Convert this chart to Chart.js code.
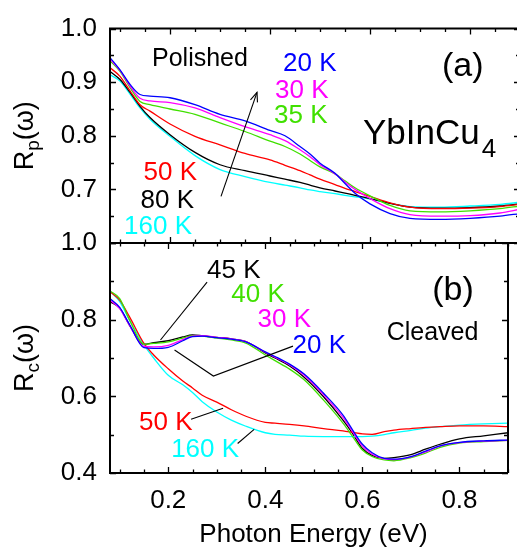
<!DOCTYPE html>
<html><head><meta charset="utf-8">
<script src="https://cdn.jsdelivr.net/npm/chart.js@4.4.0/dist/chart.umd.min.js"></script>
<style>
html,body{margin:0;padding:0;background:#fff;overflow:hidden;width:517px;height:551px;}
#wrap{position:relative;width:520px;height:551px;}
canvas{position:absolute;left:0;top:0;}
</style></head><body>
<div id="wrap"><canvas id="cb" width="520" height="551"></canvas><canvas id="ct" width="520" height="551"></canvas></div>
<script>
// ---------- data: panel (a) polished ----------
const energyA = [0.08, 0.10, 0.12, 0.14, 0.16, 0.20, 0.25, 0.30, 0.35, 0.40, 0.43, 0.46, 0.48, 0.50, 0.53, 0.55, 0.57, 0.60, 0.64, 0.68, 0.74, 0.80, 0.86, 0.90];
const rpA20K  = [0.946, 0.923, 0.896, 0.877, 0.874, 0.871, 0.858, 0.840, 0.828, 0.810, 0.800, 0.780, 0.766, 0.749, 0.730, 0.711, 0.693, 0.673, 0.655, 0.646, 0.644, 0.646, 0.650, 0.655];
const rpA30K  = [0.943, 0.922, 0.893, 0.870, 0.865, 0.862, 0.852, 0.834, 0.817, 0.802, 0.791, 0.774, 0.761, 0.746, 0.729, 0.714, 0.700, 0.683, 0.664, 0.653, 0.650, 0.651, 0.656, 0.663];
const rpA35K  = [0.940, 0.920, 0.890, 0.864, 0.858, 0.850, 0.840, 0.824, 0.808, 0.790, 0.780, 0.766, 0.754, 0.742, 0.729, 0.716, 0.703, 0.688, 0.670, 0.660, 0.658, 0.660, 0.664, 0.669];
const rpA50K  = [0.927, 0.911, 0.884, 0.858, 0.846, 0.822, 0.799, 0.783, 0.767, 0.755, 0.745, 0.735, 0.727, 0.719, 0.709, 0.702, 0.696, 0.687, 0.675, 0.667, 0.664, 0.665, 0.668, 0.672];
const rpA80K  = [0.920, 0.905, 0.881, 0.855, 0.834, 0.802, 0.769, 0.746, 0.735, 0.725, 0.719, 0.713, 0.708, 0.703, 0.697, 0.693, 0.689, 0.683, 0.674, 0.667, 0.665, 0.666, 0.669, 0.673];
const rpA160K = [0.914, 0.902, 0.878, 0.852, 0.831, 0.799, 0.763, 0.737, 0.724, 0.713, 0.708, 0.703, 0.699, 0.696, 0.692, 0.689, 0.686, 0.682, 0.674, 0.668, 0.667, 0.669, 0.672, 0.676];

// ---------- data: panel (b) cleaved ----------
const energyB = [0.08, 0.10, 0.12, 0.15, 0.17, 0.20, 0.23, 0.25, 0.27, 0.30, 0.33, 0.36, 0.40, 0.42, 0.45, 0.48, 0.52, 0.56, 0.58, 0.60, 0.62, 0.645, 0.665, 0.70, 0.73, 0.76, 0.80, 0.85, 0.90];
const rcB20K  = [0.855, 0.832, 0.788, 0.727, 0.725, 0.728, 0.745, 0.756, 0.757, 0.753, 0.749, 0.742, 0.716, 0.704, 0.684, 0.658, 0.608, 0.551, 0.512, 0.475, 0.453, 0.438, 0.436, 0.443, 0.457, 0.471, 0.480, 0.484, 0.486];
const rcB30K  = [0.851, 0.829, 0.786, 0.730, 0.729, 0.733, 0.748, 0.757, 0.758, 0.754, 0.750, 0.743, 0.715, 0.702, 0.682, 0.655, 0.604, 0.545, 0.507, 0.470, 0.449, 0.437, 0.435, 0.442, 0.455, 0.470, 0.479, 0.483, 0.485];
const rcB40K  = [0.875, 0.855, 0.800, 0.736, 0.738, 0.742, 0.752, 0.758, 0.757, 0.752, 0.747, 0.739, 0.708, 0.693, 0.671, 0.643, 0.590, 0.530, 0.495, 0.460, 0.443, 0.434, 0.432, 0.440, 0.452, 0.467, 0.478, 0.482, 0.485];
const rcB45K  = [0.847, 0.830, 0.786, 0.736, 0.740, 0.745, 0.755, 0.760, 0.758, 0.754, 0.750, 0.743, 0.713, 0.700, 0.679, 0.650, 0.599, 0.538, 0.503, 0.464, 0.446, 0.438, 0.440, 0.448, 0.462, 0.475, 0.489, 0.497, 0.505];
const rcB50K  = [0.873, 0.851, 0.808, 0.738, 0.708, 0.672, 0.640, 0.622, 0.603, 0.585, 0.565, 0.548, 0.532, 0.530, 0.527, 0.523, 0.516, 0.510, 0.506, 0.502, 0.501, 0.508, 0.512, 0.516, 0.519, 0.521, 0.523, 0.523, 0.521];
const rcB160K = [0.875, 0.847, 0.799, 0.734, 0.700, 0.655, 0.630, 0.610, 0.586, 0.559, 0.538, 0.522, 0.505, 0.501, 0.499, 0.496, 0.495, 0.495, 0.495, 0.495, 0.496, 0.500, 0.505, 0.511, 0.517, 0.521, 0.525, 0.528, 0.530];

// ---------- tick labels ----------
const xTickLabels  = ['0.2', '0.4', '0.6', '0.8'];
const yTickLabelsA = ['0.7', '0.8', '0.9', '1.0'];
const yTickLabelsB = ['0.4', '0.6', '0.8', '1.0'];

// ---------- styling ----------
const FONT = '"Liberation Sans", Arial, Helvetica, sans-serif';
const C = {blue:'#0000ff', magenta:'#ff00ff', green:'#40e000', red:'#ff0000', black:'#000000', cyan:'#00ffff'};
const X_MIN = 0.08, X_MAX = 0.90;

function series(xs, ys, color) {
  return {data: xs.map((x, i) => ({x: x, y: ys[i]})), borderColor: color, backgroundColor: color,
    borderWidth: 1.3, pointRadius: 0, showLine: true, fill: false, cubicInterpolationMode: 'monotone'};
}

function txt(ctx, s, x, y, color, size, align) {
  ctx.font = size + 'px ' + FONT;
  ctx.fillStyle = color;
  ctx.textAlign = align || 'left';
  ctx.textBaseline = 'alphabetic';
  ctx.fillText(s, x, y);
}

function rotatedTitle(ctx, cx, cy, main, sub, tail) {
  ctx.save();
  ctx.translate(cx, cy);
  ctx.rotate(-Math.PI / 2);
  ctx.fillStyle = '#000';
  ctx.textBaseline = 'alphabetic';
  ctx.textAlign = 'left';
  const fm = '27px ' + FONT, fs = '19px ' + FONT;
  ctx.font = fm; const w1 = ctx.measureText(main).width; const w3 = ctx.measureText(tail).width;
  ctx.font = fs; const w2 = ctx.measureText(sub).width;
  let x = -(w1 + w2 + w3) / 2;
  ctx.font = fm; ctx.fillText(main, x, 0); x += w1;
  ctx.font = fs; ctx.fillText(sub, x, 6); x += w2;
  ctx.font = fm; ctx.fillText(tail, x, 0);
  ctx.restore();
}

function framePlugin(yTicks) {
  return {
    id: 'frameTicks',
    afterDraw(chart) {
      const ctx = chart.ctx, xs = chart.scales.x, ys = chart.scales.y, a = chart.chartArea;
      ctx.save();
      ctx.strokeStyle = '#000';
      ctx.lineWidth = 2;
      ctx.beginPath();
      ctx.moveTo(a.left, a.top); ctx.lineTo(a.right, a.top);
      ctx.moveTo(a.left, a.bottom); ctx.lineTo(a.right, a.bottom);
      ctx.moveTo(a.left, a.top - 1); ctx.lineTo(a.left, a.bottom + 1);
      ctx.moveTo(a.right, a.top); ctx.lineTo(a.right, a.bottom);
      ctx.stroke();
      ctx.lineWidth = 1.3;
      ctx.beginPath();
      for (let i = 2; i <= 18; i++) {
        const v = i * 0.05;
        const px = Math.round(xs.getPixelForValue(v)) + 0.5;
        const L = (i % 4 === 0) ? 6 : 3.5;
        ctx.moveTo(px, a.top); ctx.lineTo(px, a.top + L);
        ctx.moveTo(px, a.bottom); ctx.lineTo(px, a.bottom - L);
      }
      for (const t of yTicks) {
        const py = Math.round(ys.getPixelForValue(t.v)) + 0.5;
        const L = t.major ? 6 : 4;
        ctx.moveTo(a.left, py); ctx.lineTo(a.left + L, py);
        ctx.moveTo(a.right, py); ctx.lineTo(a.right - L, py);
      }
      ctx.stroke();
      ctx.restore();
    }
  };
}

function annotPlugin(labels, lines, arrows, extra) {
  return {
    id: 'annot',
    afterDraw(chart) {
      const ctx = chart.ctx, xs = chart.scales.x, ys = chart.scales.y;
      const P = (p) => [xs.getPixelForValue(p[0]), ys.getPixelForValue(p[1])];
      ctx.save();
      ctx.strokeStyle = '#000';
      ctx.lineWidth = 1.1;
      for (const ln of lines) {
        ctx.beginPath();
        ln.forEach((p, i) => { const q = P(p); if (i === 0) ctx.moveTo(q[0], q[1]); else ctx.lineTo(q[0], q[1]); });
        ctx.stroke();
      }
      for (const ar of arrows) {
        const f = P(ar[0]), t = P(ar[1]);
        ctx.beginPath(); ctx.moveTo(f[0], f[1]); ctx.lineTo(t[0], t[1]); ctx.stroke();
        const ang = Math.atan2(t[1] - f[1], t[0] - f[0]);
        const hl = 10, ha = 0.38;
        ctx.beginPath();
        ctx.moveTo(t[0] - hl * Math.cos(ang - ha), t[1] - hl * Math.sin(ang - ha));
        ctx.lineTo(t[0], t[1]);
        ctx.lineTo(t[0] - hl * Math.cos(ang + ha), t[1] - hl * Math.sin(ang + ha));
        ctx.stroke();
      }
      for (const lb of labels) {
        const q = P([lb.x, lb.y]);
        txt(ctx, lb.text, q[0], q[1], lb.color, lb.size, lb.align);
      }
      if (extra) extra(ctx, chart, P);
      ctx.restore();
    }
  };
}

const labelsA = [
  {text:'Polished', x:0.164, y:0.931, color:C.black, size:25},
  {text:'20 K', x:0.426, y:0.920, color:C.blue, size:26},
  {text:'30 K', x:0.410, y:0.871, color:C.magenta, size:26},
  {text:'35 K', x:0.408, y:0.823, color:C.green, size:26},
  {text:'(a)', x:0.744, y:0.912, color:C.black, size:34},
  {text:'50 K', x:0.254, y:0.717, color:C.red, size:26, align:'right'},
  {text:'80 K', x:0.248, y:0.665, color:C.black, size:26, align:'right'},
  {text:'160 K', x:0.244, y:0.616, color:C.cyan, size:26, align:'right'}
];
const arrowsA = [[[0.302, 0.687], [0.374, 0.881]]];

const labelsB = [
  {text:'45 K', x:0.280, y:0.909, color:C.black, size:26},
  {text:'40 K', x:0.330, y:0.846, color:C.green, size:26},
  {text:'30 K', x:0.384, y:0.781, color:C.magenta, size:26},
  {text:'20 K', x:0.456, y:0.713, color:C.blue, size:26},
  {text:'(b)', x:0.744, y:0.851, color:C.black, size:34},
  {text:'Cleaved', x:0.650, y:0.747, color:C.black, size:25},
  {text:'50 K', x:0.140, y:0.512, color:C.red, size:26},
  {text:'160 K', x:0.206, y:0.442, color:C.cyan, size:26}
];
const linesB = [
  [[0.280, 0.898], [0.184, 0.747]],
  [[0.213, 0.721], [0.293, 0.653], [0.457, 0.731]],
  [[0.247, 0.540], [0.313, 0.569]],
  [[0.343, 0.477], [0.377, 0.514]]
];

const yTicksA = [];
for (let k = 12; k <= 20; k++) yTicksA.push({v: k * 0.05, major: k % 2 === 0});
const yTicksB = [];
for (let k = 4; k <= 10; k++) yTicksB.push({v: k * 0.1, major: k % 2 === 0});

Chart.defaults.font.family = FONT;
Chart.defaults.color = '#000';

function yScale(min, max, step, labels) {
  return {
    type: 'linear', position: 'left', min: min, max: max,
    grid: {display: false, drawTicks: false}, border: {display: false},
    ticks: {stepSize: step, autoSkip: false, padding: 13, font: {size: 26, family: FONT}, color: '#000',
      callback: (v) => { const s = (Math.round(v * 100) / 100).toFixed(1); return (labels.includes(s) && Math.abs(v * 10 - Math.round(v * 10)) < 1e-6) ? s : ''; }},
    afterFit: (s) => { s.width = 110; }
  };
}

// top panel
new Chart(document.getElementById('ct'), {
  type: 'scatter',
  data: {datasets: [
    series(energyA, rpA20K, C.blue), series(energyA, rpA30K, C.magenta), series(energyA, rpA35K, C.green),
    series(energyA, rpA50K, C.red), series(energyA, rpA80K, C.black), series(energyA, rpA160K, C.cyan)
  ]},
  options: {
    responsive: false, animation: false, events: [],
    layout: {padding: {top: 18, bottom: 308, left: 0, right: 0}},
    plugins: {legend: {display: false}, tooltip: {enabled: false}},
    scales: {
      x: {type: 'linear', min: X_MIN, max: X_MAX, display: false},
      y: yScale(0.6, 1.0, 0.05, yTickLabelsA)
    }
  },
  plugins: [framePlugin(yTicksA), annotPlugin(labelsA, [], arrowsA, (ctx, chart, P) => {
    const q = P([0.586, 0.784]);
    txt(ctx, 'YbInCu', q[0], q[1], '#000', 35);
    ctx.font = '35px ' + FONT;
    const w = ctx.measureText('YbInCu').width;
    txt(ctx, '4', q[0] + w + 2, q[1] + 13, '#000', 26);
    rotatedTitle(ctx, 33, (chart.chartArea.top + chart.chartArea.bottom) / 2, 'R', 'p', '(\u03c9)');
  })]
});

// bottom panel
new Chart(document.getElementById('cb'), {
  type: 'scatter',
  data: {datasets: [
    series(energyB, rcB20K, C.blue), series(energyB, rcB30K, C.magenta), series(energyB, rcB40K, C.green),
    series(energyB, rcB50K, C.red), series(energyB, rcB160K, C.cyan), series(energyB, rcB45K, C.black)
  ]},
  options: {
    responsive: false, animation: false, events: [],
    layout: {padding: {top: 243, bottom: 0, left: 0, right: 0}},
    plugins: {legend: {display: false}, tooltip: {enabled: false}},
    scales: {
      x: {type: 'linear', position: 'bottom', min: X_MIN, max: X_MAX,
        grid: {display: false, drawTicks: false}, border: {display: false},
        ticks: {stepSize: 0.05, autoSkip: false, maxRotation: 0, padding: 12, font: {size: 26, family: FONT}, color: '#000',
          callback: (v) => { const s = (Math.round(v * 100) / 100).toFixed(1); return (xTickLabels.includes(s) && Math.abs(v * 10 - Math.round(v * 10)) < 1e-6) ? s : ''; }},
        afterFit: (s) => { s.height = 78; }
      },
      y: yScale(0.4, 1.0, 0.1, yTickLabelsB)
    }
  },
  plugins: [framePlugin(yTicksB), annotPlugin(labelsB, linesB, [], (ctx, chart) => {
    const a = chart.chartArea;
    rotatedTitle(ctx, 33, (a.top + a.bottom) / 2, 'R', 'c', '(\u03c9)');
    txt(ctx, 'Photon Energy (eV)', (a.left + 517) / 2, a.bottom + 69, '#000', 26, 'center');
  })]
});
</script>
</body></html>
